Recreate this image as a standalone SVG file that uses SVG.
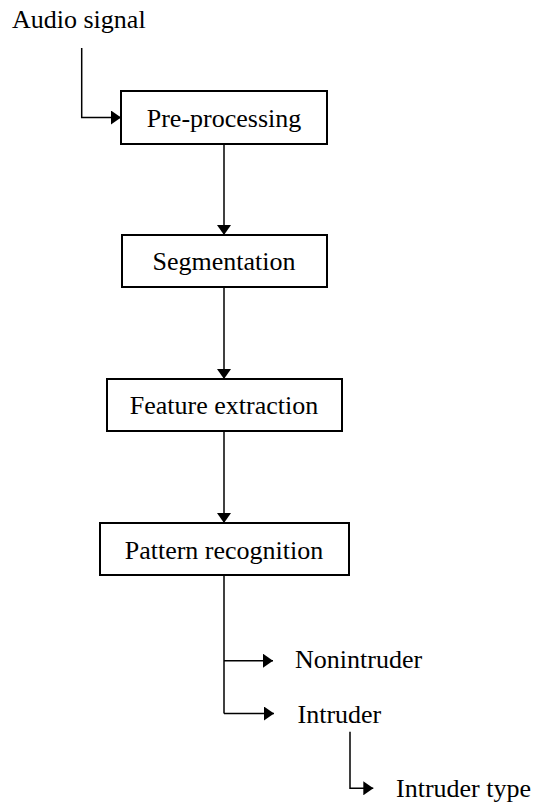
<svg xmlns="http://www.w3.org/2000/svg" width="536" height="807" viewBox="0 0 536 807">
<style>
.box{fill:#fff;stroke:#000;stroke-width:2}
.t{font-family:"Liberation Serif","Times New Roman",serif;font-size:26px;fill:#000}
.c{text-anchor:middle}
.ln{fill:none;stroke:#000;stroke-width:1.5}
</style>
<defs>
<marker id="ah" markerUnits="userSpaceOnUse" markerWidth="10" markerHeight="14" refX="10" refY="7" orient="auto">
<path d="M0,0 L10,7 L0,14 z" fill="#000"/>
</marker>
</defs>
<g id="audio"><text class="t" x="12" y="28">Audio signal</text></g>
<g id="preprocessing"><rect class="box" x="121" y="91" width="206" height="53"/><text class="t c" x="224" y="127">Pre-processing</text></g>
<g id="segmentation"><rect class="box" x="122" y="235" width="205" height="52"/><text class="t c" x="224" y="270">Segmentation</text></g>
<g id="feature"><rect class="box" x="107" y="379" width="235" height="52"/><text class="t c" x="224" y="414">Feature extraction</text></g>
<g id="pattern"><rect class="box" x="100" y="523" width="249" height="52"/><text class="t c" x="224" y="558.5">Pattern recognition</text></g>
<g id="nonintruder"><text class="t" x="295" y="668">Nonintruder</text></g>
<g id="intruder"><text class="t" x="297.5" y="722.5">Intruder</text></g>
<g id="intrudertype"><text class="t" x="396" y="797">Intruder type</text></g>
<g id="connectors">
<path class="ln" d="M81.7,48 V117.5 H121" marker-end="url(#ah)"/>
<path class="ln" d="M224,144 V235" marker-end="url(#ah)"/>
<path class="ln" d="M224,287 V379" marker-end="url(#ah)"/>
<path class="ln" d="M224,431 V523" marker-end="url(#ah)"/>
<path class="ln" d="M224,575 V713.5"/>
<path class="ln" d="M224,660.7 H273" marker-end="url(#ah)"/>
<path class="ln" d="M224,713.5 H274" marker-end="url(#ah)"/>
<path class="ln" d="M350,731.7 V788.3 H373.3" marker-end="url(#ah)"/>
</g>
</svg>
